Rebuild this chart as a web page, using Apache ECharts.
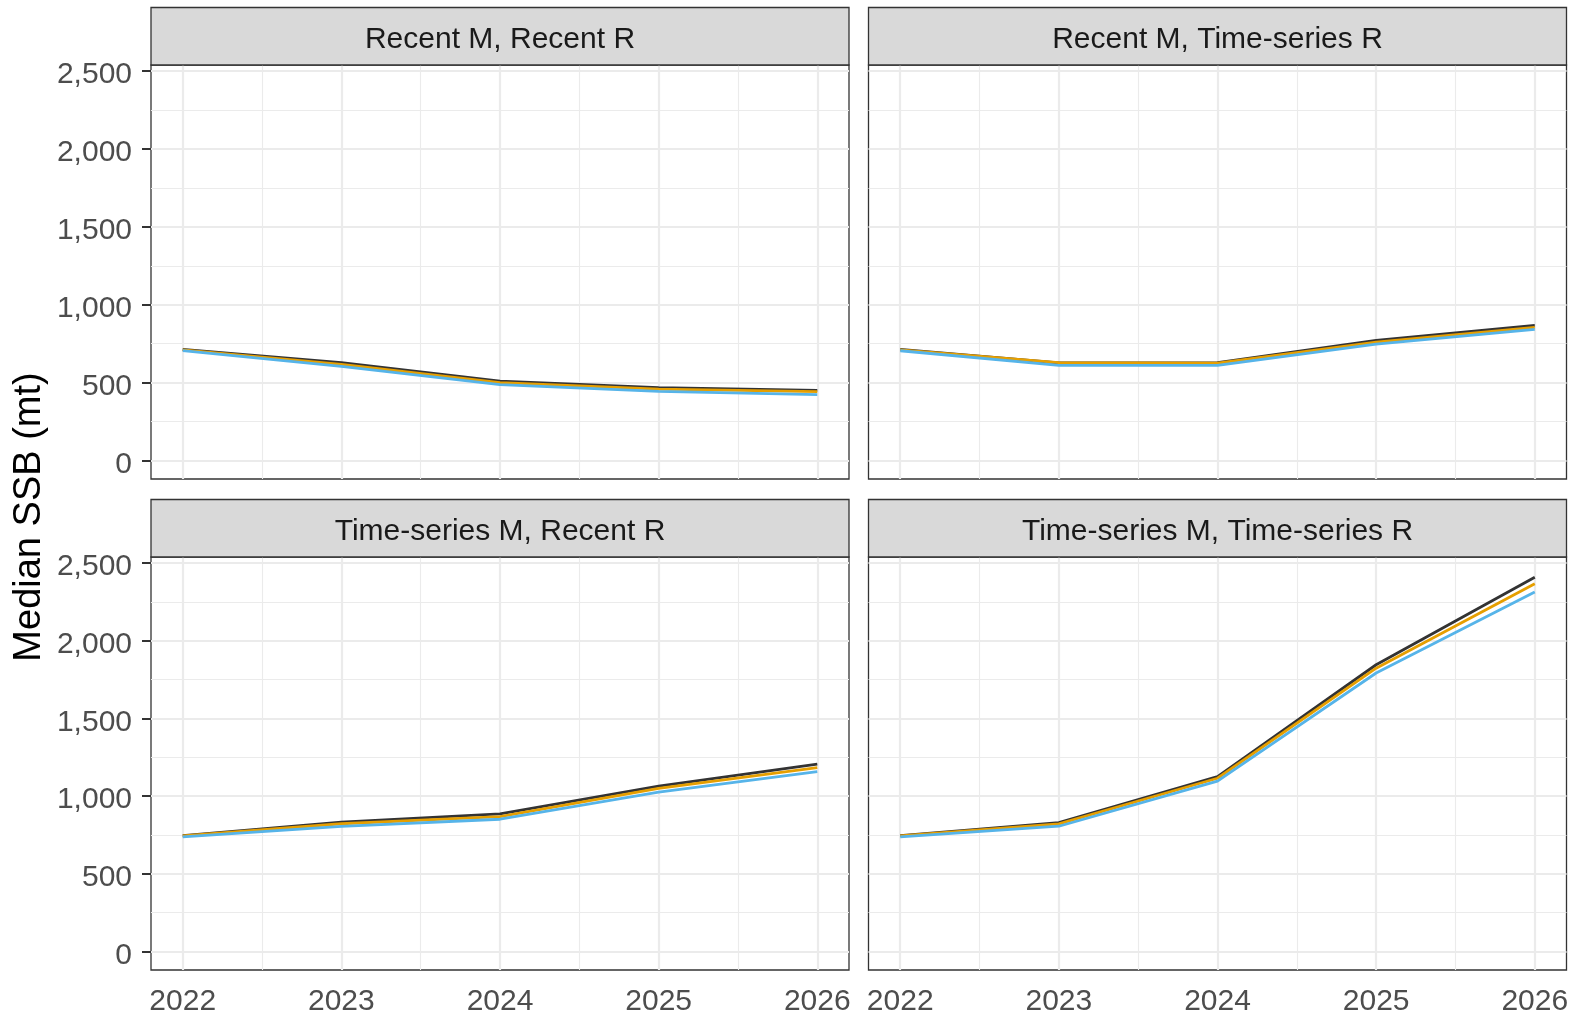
<!DOCTYPE html>
<html>
<head>
<meta charset="utf-8">
<script src="https://cdn.jsdelivr.net/npm/echarts@6/dist/echarts.min.js"></script>
<style>
  html, body { margin: 0; padding: 0; background: #ffffff; }
  #chart { width: 1577px; height: 1017px; }
</style>
</head>
<body>
<div id="chart"></div>
<script>
// Projection years and y-axis tick values
const years = [2022, 2023, 2024, 2025, 2026];
const yTicks = [0, 500, 1000, 1500, 2000, 2500];
const yMinor = [250, 750, 1250, 1750, 2250];
const xMinor = [2022.5, 2023.5, 2024.5, 2025.5];

// Facet titles
const panelTitles = [
  'Recent M, Recent R',
  'Recent M, Time-series R',
  'Time-series M, Recent R',
  'Time-series M, Time-series R'
];

// Median SSB (mt) by scenario, one array per facet
const scen1RecentMRecentR = [712, 627, 509, 467, 450];
const scen2RecentMRecentR = [710, 616, 499, 458, 441];
const scen3RecentMRecentR = [705, 604, 486, 443, 422];

const scen1RecentMTsR = [712, 626, 628, 771, 867];
const scen2RecentMTsR = [710, 628, 624, 760, 854];
const scen3RecentMTsR = [704, 610, 610, 747, 841];

const scen1TsMRecentR = [745, 832, 885, 1065, 1206];
const scen2TsMRecentR = [743, 822, 868, 1050, 1183];
const scen3TsMRecentR = [737, 805, 851, 1026, 1157];

const scen1TsMTsR = [746, 829, 1125, 1846, 2410];
const scen2TsMTsR = [744, 821, 1115, 1824, 2368];
const scen3TsMTsR = [738, 806, 1096, 1793, 2315];

const panelData = [
  [scen1RecentMRecentR, scen2RecentMRecentR, scen3RecentMRecentR],
  [scen1RecentMTsR, scen2RecentMTsR, scen3RecentMTsR],
  [scen1TsMRecentR, scen2TsMRecentR, scen3TsMRecentR],
  [scen1TsMTsR, scen2TsMTsR, scen3TsMTsR]
];
const scenarioNames = ['Scenario 1', 'Scenario 2', 'Scenario 3'];
const scenarioColors = ['#333333', '#E69F00', '#56B4E9'];

// ---- layout ----
const FONT = '"Liberation Sans", Arial, sans-serif';
const panelW = 698, panelH = 414;
const lefts = [151, 868.5];
const tops = [65, 557];
const stripH = 57.5;

const fmtComma = v => String(v).replace(/\B(?=(\d{3})+(?!\d))/g, ',');

const grids = [], xAxes = [], yAxes = [], series = [], graphics = [];

for (let p = 0; p < 4; p++) {
  const col = p % 2, row = Math.floor(p / 2);
  const left = lefts[col], top = tops[row];

  grids.push({
    left: left, top: top, width: panelW, height: panelH,
    show: true, borderColor: '#333333', borderWidth: 1.3, backgroundColor: '#ffffff',
    containLabel: false
  });

  xAxes.push({
    type: 'value', gridIndex: p, min: 2021.8, max: 2026.2,
    splitLine: { show: false }, axisLine: { show: false },
    axisTick: {
      show: row === 1, customValues: years, length: 10,
      lineStyle: { color: '#333333', width: 2 }
    },
    axisLabel: {
      show: row === 1, customValues: years, margin: 17,
      color: '#4D4D4D', fontSize: 30, fontFamily: FONT,
      formatter: v => String(v)
    }
  });

  yAxes.push({
    type: 'value', gridIndex: p, min: -120, max: 2540,
    splitLine: { show: false }, axisLine: { show: false },
    axisTick: {
      show: col === 0, customValues: yTicks, length: 9,
      lineStyle: { color: '#333333', width: 2 }
    },
    axisLabel: {
      show: col === 0, customValues: yTicks, margin: 19,
      color: '#4D4D4D', fontSize: 30, fontFamily: FONT,
      verticalAlign: 'top', lineHeight: 8,
      formatter: v => fmtComma(v)
    }
  });

  // panel grid lines (major and minor), placed through the axes
  const gridLines = [];
  yTicks.forEach(v => gridLines.push({ yAxis: v, lineStyle: { width: 2.2 } }));
  yMinor.forEach(v => gridLines.push({ yAxis: v, lineStyle: { width: 1.1 } }));
  years.forEach(v => gridLines.push({ xAxis: v, lineStyle: { width: 2.2 } }));
  xMinor.forEach(v => gridLines.push({ xAxis: v, lineStyle: { width: 1.1 } }));

  series.push({
    type: 'line', xAxisIndex: p, yAxisIndex: p, data: [], z: 1, silent: true,
    markLine: {
      z: 1, silent: true, symbol: 'none', animation: false,
      label: { show: false },
      lineStyle: { color: '#EBEBEB', type: 'solid' },
      emphasis: { disabled: true },
      data: gridLines
    }
  });

  panelData[p].forEach((vals, s) => {
    series.push({
      name: scenarioNames[s], type: 'line', xAxisIndex: p, yAxisIndex: p,
      data: years.map((y, i) => [y, vals[i]]),
      showSymbol: false, symbol: 'none', z: 10 + s,
      lineStyle: { color: scenarioColors[s], width: 2.8 },
      itemStyle: { color: scenarioColors[s] },
      animation: false
    });
  });

  // facet strip
  graphics.push({
    type: 'rect', z: 100,
    shape: { x: left, y: top - stripH, width: panelW, height: stripH },
    style: { fill: '#D9D9D9', stroke: '#333333', lineWidth: 1.3 }
  });
  graphics.push({
    type: 'text', z: 101, x: left + panelW / 2, y: top - stripH / 2 + 3,
    style: {
      text: panelTitles[p], fill: '#1A1A1A', font: '30px ' + FONT,
      align: 'center', verticalAlign: 'middle'
    }
  });
}

// shared y-axis title
graphics.push({
  type: 'text', z: 101, x: 30, y: 517, rotation: Math.PI / 2,
  style: {
    text: 'Median SSB (mt)', fill: '#000000', font: '38px ' + FONT,
    align: 'center', verticalAlign: 'middle'
  }
});

const chart = echarts.init(document.getElementById('chart'), null, { renderer: 'canvas' });
chart.setOption({
  backgroundColor: '#ffffff',
  animation: false,
  grid: grids,
  xAxis: xAxes,
  yAxis: yAxes,
  series: series,
  graphic: graphics
});
</script>
</body>
</html>
